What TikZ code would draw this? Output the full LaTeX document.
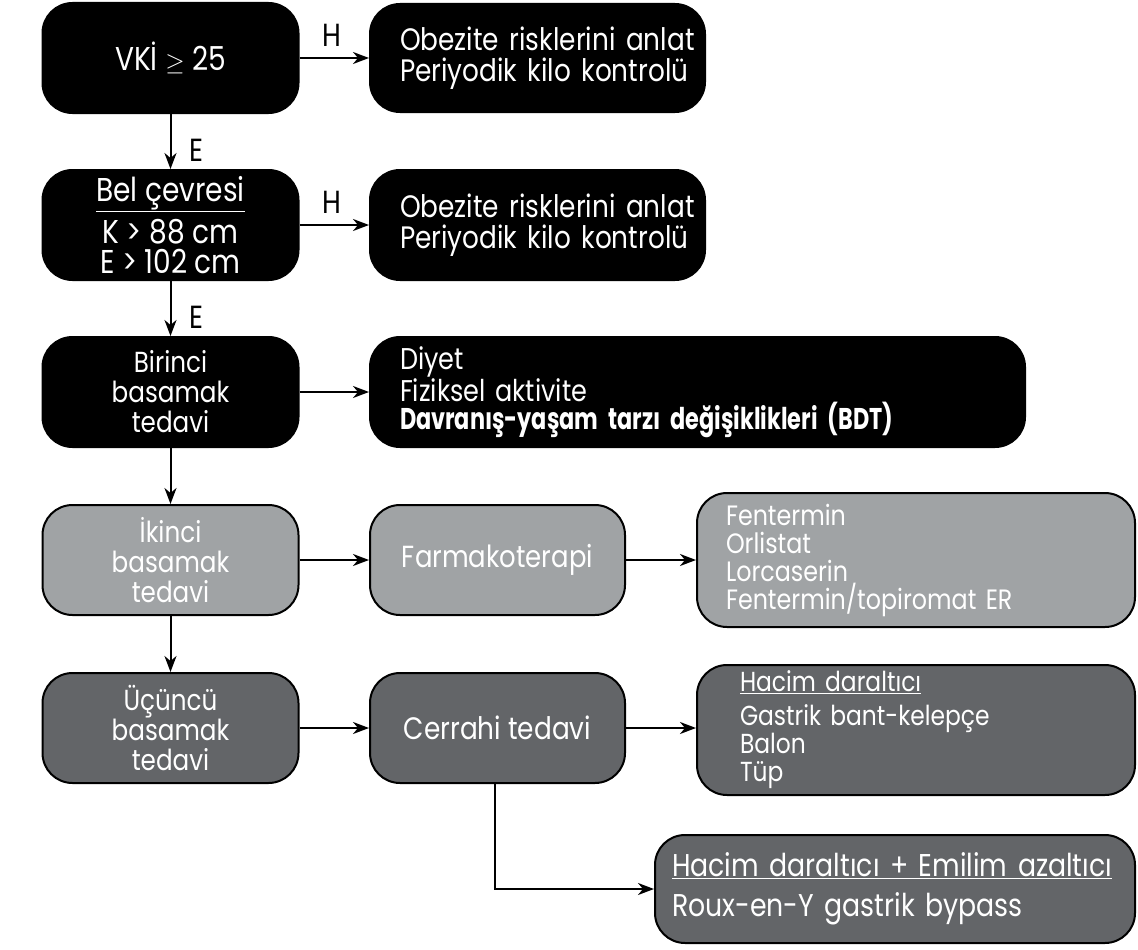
\documentclass[tikz,border=0pt]{standalone}
\usepackage{fontspec}
\setmainfont{Poppins}[FakeStretch=0.85]
\newfontfamily\condbold{Poppins}[FakeStretch=0.745]
\usetikzlibrary{arrows.meta}
\definecolor{lgray}{RGB}{160,163,165}
\definecolor{dgray}{RGB}{99,101,104}
\begin{document}
\begin{tikzpicture}[x=1pt,y=-1pt,
  box/.style={rounded corners=30pt, draw=black, line width=2pt, text=white,
    font=\fontsize{29}{30}\selectfont, inner sep=0pt, align=center},
  blackbox/.style={box, fill=black},
  lightbox/.style={box, fill=lgray},
  darkbox/.style={box, fill=dgray},
  leftbox/.style={minimum width=256pt, minimum height=110pt},
  listtext/.style={align=left},
  arr/.style={-{Stealth[length=16pt,width=12pt,inset=5pt]}, line width=2pt},
  lbl/.style={font=\fontsize{32}{32}\selectfont, inner sep=0pt}]
\useasboundingbox (0,0) rectangle (1138,950);
\fill[white] (0,0) rectangle (1138,950);

% left column
\node[blackbox, leftbox, font=\fontsize{33}{33}\selectfont] (vki) at (170.5,58) {VKİ $\geq$ 25};
\node[blackbox, leftbox, font=\fontsize{33}{30}\selectfont] (bel) at (170.5,225) {\underline{Bel çevresi}\\[6pt] K > 88 cm\\ E > 102 cm};
\node[blackbox, leftbox] (bir) at (170.5,392) {Birinci\\ basamak\\ tedavi};
\node[lightbox, leftbox] (iki) at (170.5,560) {İkinci\\ basamak\\ tedavi};
\node[darkbox, leftbox] (ucu) at (170.5,728) {Üçüncü\\ basamak\\ tedavi};

% right column
\node[blackbox, listtext, font=\fontsize{31}{31}\selectfont, minimum height=108pt, text width=275pt, inner xsep=30pt] (h1) at (537.5,58)
  {\mbox{Obezite risklerini anlat}\\ \mbox{Periyodik kilo kontrolü}};
\node[blackbox, listtext, font=\fontsize{31}{31}\selectfont, minimum height=110pt, text width=275pt, inner xsep=30pt] (h2) at (537.5,225)
  {\mbox{Obezite risklerini anlat}\\ \mbox{Periyodik kilo kontrolü}};
\node[blackbox, listtext, font=\fontsize{30}{28}\selectfont, minimum height=110pt, text width=595pt, inner xsep=30pt] (diyet) at (697.5,392)
  {Diyet\\ Fiziksel aktivite\\ {\condbold\bfseries\fontsize{30}{28}\selectfont Davranış-yaşam tarzı değişiklikleri (BDT)}};
\node[lightbox, font=\fontsize{30.5}{31}\selectfont, minimum width=255pt, minimum height=110pt] (farm) at (497.5,560) {Farmakoterapi};
\node[darkbox, font=\fontsize{31}{31}\selectfont, minimum width=255pt, minimum height=110pt] (cerr) at (497.5,728) {Cerrahi tedavi};
\node[lightbox, listtext, font=\fontsize{28}{28}\selectfont, minimum height=134pt, text width=380pt, inner xsep=29pt] (fent) at (916,560)
  {Fentermin\\ Orlistat\\ Lorcaserin\\ Fentermin/topiromat ER};
\node[darkbox, listtext, font=\fontsize{27.5}{28}\selectfont, minimum height=130pt, text width=352pt, inner xsep=43pt] (hac) at (916,730)
  {\underline{Hacim daraltıcı}\\[6pt] Gastrik bant-kelepçe\\ Balon\\ Tüp};
\node[darkbox, listtext, font=\fontsize{31.5}{32}\selectfont, minimum height=108pt, text width=446pt, inner xsep=17pt] (roux) at (895,889)
  {\underline{Hacim daraltıcı + Emilim azaltıcı}\\[8pt] Roux-en-Y gastrik bypass};

% connectors
\draw[arr] (vki) -- (h1);
\draw[arr] (bel) -- (h2);
\draw[arr] (bir) -- (diyet);
\draw[arr] (iki) -- (farm);
\draw[arr] (farm) -- (fent);
\draw[arr] (ucu) -- (cerr);
\draw[arr] (cerr.east) -- (cerr.east -| hac.west);
\draw[arr] (vki) -- (bel);
\draw[arr] (bel) -- (bir);
\draw[arr] (bir) -- (iki);
\draw[arr] (iki) -- (ucu);
\draw[arr] ([xshift=-3pt]cerr.south) |- (roux.west);

% labels
\node[lbl] (hA) at (332,35) {H};
\node[lbl] (hB) at (332,202) {H};
\node[lbl] (eA) at (196,150) {E};
\node[lbl] (eB) at (196,317) {E};
\end{tikzpicture}
\end{document}
